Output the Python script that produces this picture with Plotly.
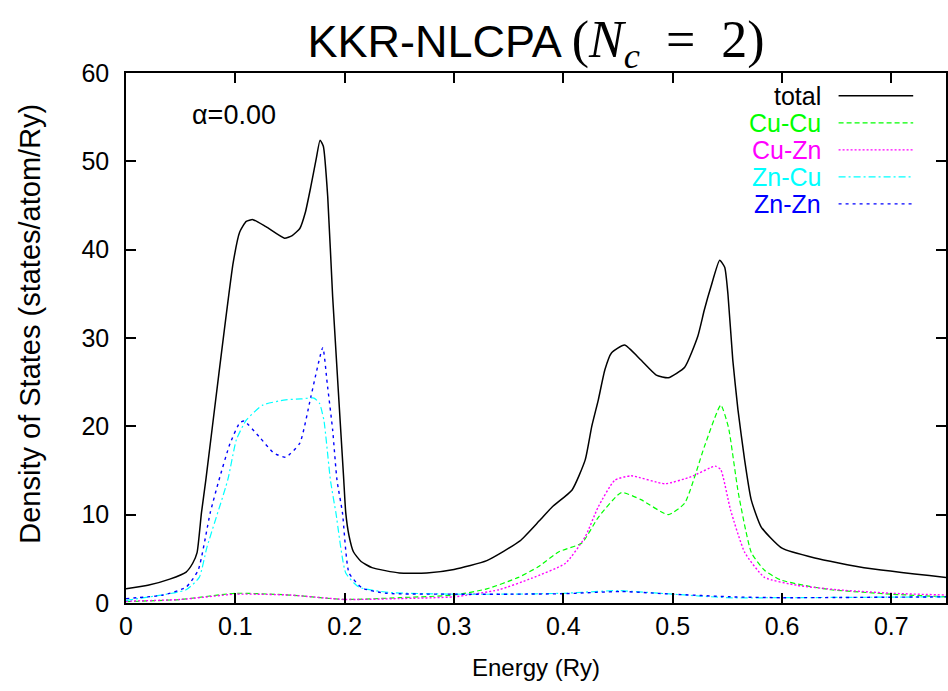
import plotly.graph_objects as go

# ---------------- data ----------------
total_x = [0, 0.02, 0.04, 0.055, 0.061, 0.065, 0.069, 0.073, 0.085, 0.098, 0.104, 0.11, 0.116, 0.128,
           0.145, 0.152, 0.159, 0.164, 0.169, 0.174, 0.1775, 0.1805, 0.1845, 0.189, 0.199, 0.201,
           0.204, 0.208, 0.215, 0.225, 0.25, 0.275, 0.3, 0.33, 0.36, 0.378, 0.39, 0.408, 0.42,
           0.426, 0.432, 0.438, 0.444, 0.456, 0.471, 0.485, 0.496, 0.511, 0.523, 0.529, 0.535,
           0.543, 0.5476, 0.5506, 0.555, 0.5597, 0.5658, 0.5718, 0.581, 0.6, 0.63, 0.675, 0.75]
total_y = [1.6, 2.0, 2.7, 3.5, 4.5, 5.7, 10.2, 13.9, 26.0, 38.5, 42.0, 43.2, 43.4, 42.6,
           41.3, 41.6, 42.4, 44.2, 47.1, 50.3, 52.4, 51.7, 46.0, 34.7, 14.3, 10.2,
           7.6, 5.8, 4.7, 4.0, 3.4, 3.4, 3.8, 4.8, 7.0, 9.3, 10.9, 12.8, 16.2,
           20.0, 23.0, 26.4, 28.3, 29.2, 27.5, 25.8, 25.5, 26.7, 30.2, 33.2, 35.8,
           38.8, 38.0, 34.9, 27.5, 21.9, 16.2, 11.7, 8.6, 6.2, 5.1, 4.0, 2.9]

cucu_x = [0, 0.05, 0.1, 0.15, 0.2, 0.25, 0.3, 0.33, 0.359, 0.377, 0.396, 0.417, 0.432, 0.453,
          0.471, 0.496, 0.511, 0.529, 0.544, 0.551, 0.56, 0.572, 0.584, 0.599, 0.62, 0.645, 0.7, 0.75]
cucu_y = [0.15, 0.4, 1.1, 0.9, 0.4, 0.6, 0.9, 1.6, 2.9, 4.1, 5.8, 6.8, 9.7, 12.5,
          11.7, 10.0, 11.3, 17.7, 22.4, 19.9, 12.5, 5.7, 3.7, 2.6, 2.0, 1.5, 1.0, 0.7]

cuzn_x = [0, 0.05, 0.1, 0.15, 0.2, 0.25, 0.3, 0.341, 0.371, 0.402, 0.42, 0.432, 0.447, 0.462,
          0.493, 0.517, 0.539, 0.544, 0.553, 0.566, 0.584, 0.614, 0.65, 0.7, 0.75]
cuzn_y = [0.2, 0.4, 1.0, 0.9, 0.4, 0.5, 0.7, 1.5, 2.8, 4.5, 7.5, 10.9, 13.9, 14.4,
          13.5, 14.3, 15.5, 15.1, 10.5, 5.7, 2.9, 2.0, 1.5, 1.1, 0.9]

zncu_x = [0, 0.055, 0.067, 0.074, 0.093, 0.101, 0.11, 0.125, 0.146, 0.16, 0.172, 0.177, 0.181,
          0.187, 0.192, 0.201, 0.213, 0.24, 0.3, 0.35, 0.4, 0.45, 0.5, 0.55, 0.6, 0.75]
zncu_y = [0.3, 1.5, 2.9, 6.3, 13.9, 18.5, 20.7, 22.4, 23.0, 23.1, 23.2, 22.6, 20.7,
          13.9, 10.2, 3.4, 1.8, 1.2, 1.0, 1.0, 1.1, 1.4, 1.0, 0.6, 0.6, 0.7]

znzn_x = [0, 0.034, 0.055, 0.066, 0.077, 0.085, 0.095, 0.104, 0.108, 0.122, 0.135, 0.146, 0.159,
          0.169, 0.18, 0.184, 0.189, 0.193, 0.198, 0.204, 0.216, 0.238, 0.3, 0.35, 0.4, 0.453,
          0.5, 0.553, 0.6, 0.75]
znzn_y = [0.5, 0.9, 1.8, 3.7, 10.2, 13.9, 18.0, 20.4, 20.6, 18.8, 17.0, 16.5, 18.1,
          23.3, 28.9, 24.9, 19.6, 13.9, 10.2, 3.4, 1.7, 1.1, 1.0, 1.0, 1.05, 1.3,
          1.0, 0.7, 0.6, 0.7]

series_names = ["total", "Cu-Cu", "Cu-Zn", "Zn-Cu", "Zn-Zn"]
series_x = [total_x, cucu_x, cuzn_x, zncu_x, znzn_x]
series_y = [total_y, cucu_y, cuzn_y, zncu_y, znzn_y]
series_colors = ["#000000", "#00ff00", "#ff00ff", "#00ffff", "#0000ff"]
series_dash = ["solid", "5px,3px", "2px,2px", "7px,3px,2px,3px", "3px,4px"]
series_width = [1.5, 1.2, 1.4, 1.2, 1.4]

x_tick_vals = [0, 0.1, 0.2, 0.3, 0.4, 0.5, 0.6, 0.7]
x_tick_text = ["0", "0.1", "0.2", "0.3", "0.4", "0.5", "0.6", "0.7"]
y_tick_vals = [0, 10, 20, 30, 40, 50, 60]

FONT = "Liberation Sans, Arial, sans-serif"

fig = go.Figure()
for name, xs, ys, c, d, w in zip(series_names, series_x, series_y, series_colors,
                                 series_dash, series_width):
    fig.add_trace(go.Scatter(x=xs, y=ys, mode="lines", name=name,
                             line=dict(color=c, dash=d, width=w, shape="spline", smoothing=0.5),
                             showlegend=False))

# gnuplot-style key: right-aligned text followed by a line sample
key_text_right = 0.850
key_line_x0, key_line_x1 = 0.869, 0.960
key_top, key_step = 0.957, 0.051
for i, (name, c, d, w) in enumerate(zip(series_names, series_colors, series_dash, series_width)):
    yk = key_top - i * key_step
    fig.add_annotation(x=key_text_right, y=yk, xref="paper", yref="paper", text=name,
                       showarrow=False, xanchor="right", yanchor="middle",
                       font=dict(family=FONT, size=25, color=c))
    fig.add_shape(type="line", xref="paper", yref="paper", x0=key_line_x0, x1=key_line_x1,
                  y0=yk, y1=yk, line=dict(color=c, dash=d, width=w))

fig.add_annotation(x=0.0985, y=55.3, xref="x", yref="y", text="α=0.00", showarrow=False,
                   xanchor="center", yanchor="middle", font=dict(family=FONT, size=27, color="black"))

# y-axis title (placed like the reference, slightly above the plot centre)
fig.add_annotation(x=-0.117, y=0.527, xref="paper", yref="paper",
                   text="Density of States (states/atom/Ry)", textangle=-90, showarrow=False,
                   xanchor="center", yanchor="middle", font=dict(family=FONT, size=29, color="black"))

title_text = ('KKR-NLCPA <span style="font-family:Liberation Serif;font-size:52px">'
              '(<i>N</i><sub><i>c</i></sub>&nbsp; =&nbsp; 2)</span>')

fig.update_layout(
    width=948, height=691,
    margin=dict(l=126, r=0, t=73, b=88),
    paper_bgcolor="white", plot_bgcolor="white",
    title=dict(text=title_text,
               x=0.5, xref="paper", xanchor="center", y=0.94, yanchor="middle",
               font=dict(family=FONT, size=45, color="black")),
    font=dict(family=FONT, size=25, color="black"),
)
fig.update_xaxes(range=[0, 0.75], tickvals=x_tick_vals, ticktext=x_tick_text,
                 ticks="inside", ticklen=10, tickwidth=1.5, tickcolor="black",
                 showline=True, linecolor="black", linewidth=1.5, mirror="ticks",
                 showgrid=False, zeroline=False,
                 tickfont=dict(family=FONT, size=25),
                 title=dict(text="Energy (Ry)", font=dict(family=FONT, size=24), standoff=20))
fig.update_yaxes(range=[0, 60], tickvals=y_tick_vals,
                 ticks="inside", ticklen=10, tickwidth=1.5, tickcolor="black",
                 showline=True, linecolor="black", linewidth=1.5, mirror="ticks",
                 showgrid=False, zeroline=False, ticklabelstandoff=10,
                 tickfont=dict(family=FONT, size=25))

fig.write_html("out.html")
